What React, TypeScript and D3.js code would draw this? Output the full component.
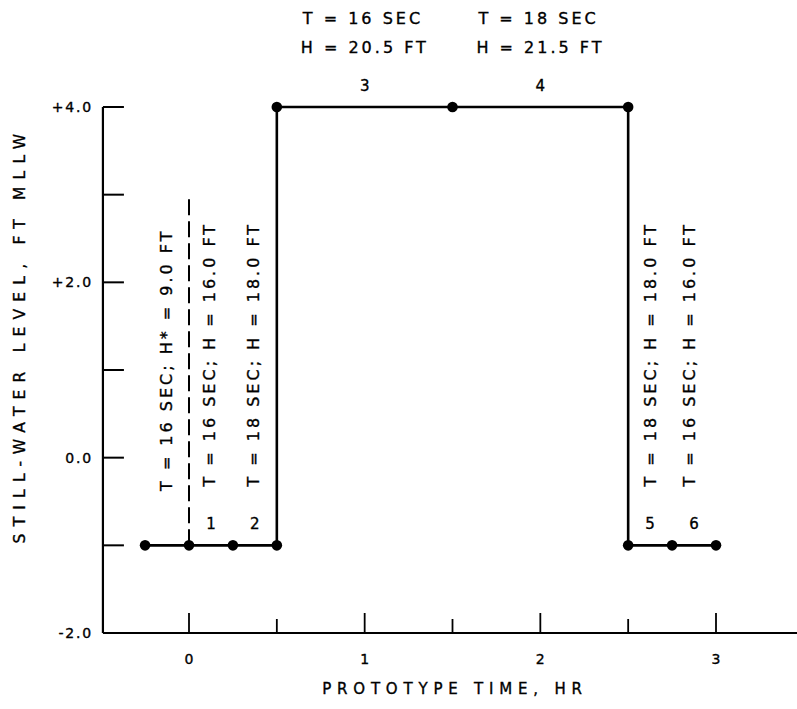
import React from 'react';
import * as d3 from 'd3';

const W = 797;
const H = 709;

// Still-water level history (time in hr, level in ft MLLW)
const pathTimes = [-0.25, 0, 0.25, 0.5, 0.5, 1.5, 2.5, 2.5, 2.75, 3.0];
const pathLevels = [-1, -1, -1, -1, 4, 4, 4, -1, -1, -1];

const yTickValues = [-2, -1, 0, 1, 2, 3, 4];
const yTickLabels = ['-2.0', '', '0.0', '', '+2.0', '', '+4.0'];
const xMajorTicks = [0, 1, 2, 3];
const xMajorLabels = ['0', '1', '2', '3'];
const xMinorTicks = [0.5, 1.5, 2.5];

const runNumbers = ['1', '2', '3', '4', '5', '6'];
const runStarts = [0, 0.25, 0.5, 1.5, 2.5, 2.75];
const runEnds = [0.25, 0.5, 1.5, 2.5, 2.75, 3.0];
const runLevels = [-1, -1, 4, 4, -1, -1];

const topNoteRuns = [2, 3];
const topNotesT = ['T = 16 SEC', 'T = 18 SEC'];
const topNotesH = ['H = 20.5 FT', 'H = 21.5 FT'];

const sideNotes = [
  'T = 16 SEC; H* = 9.0 FT',
  'T = 16 SEC; H = 16.0 FT',
  'T = 18 SEC; H = 18.0 FT',
  'T = 18 SEC; H = 18.0 FT',
  'T = 16 SEC; H = 16.0 FT',
];
const sideNoteTimes = [-0.13, 0.115, 0.37, 2.625, 2.85];
const sideNoteStartLevels = [-0.38, -0.33, -0.33, -0.33, -0.33];

const dashedTime = 0;
const dashedFrom = -1;
const dashedTo = 3.0;

const FONT = '"DejaVu Sans", sans-serif';

export default function App() {
  const x = d3.scaleLinear().domain([0, 3]).range([189, 716]);
  const y = d3.scaleLinear().domain([-2, 4]).range([633, 107]);
  const axisX = x(-0.49);
  const axisRight = W;

  const pts = pathTimes.map((t, i) => [t, pathLevels[i]] as [number, number]);
  const line = d3
    .line<[number, number]>()
    .x((d) => x(d[0]))
    .y((d) => y(d[1]));

  const txt = {
    fontFamily: FONT,
    fontSize: 16,
    letterSpacing: 3,
    fill: '#000',
    stroke: '#000',
    strokeWidth: 0.35,
  } as React.CSSProperties;

  return (
    <svg
      width={W}
      height={H}
      style={{ position: 'absolute', left: 0, top: 0, background: '#fff' }}
    >
      <rect x={0} y={0} width={W} height={H} fill="#fff" />
      {/* axes */}
      <line x1={axisX} y1={y(4)} x2={axisX} y2={y(-2)} stroke="#000" strokeWidth={2.2} />
      <line x1={axisX} y1={y(-2)} x2={axisRight} y2={y(-2)} stroke="#000" strokeWidth={2.2} />
      {yTickValues.map((v, i) =>
        v === -2 ? null : (
          <line key={'yt' + i} x1={axisX} x2={axisX + 21} y1={y(v)} y2={y(v)} stroke="#000" strokeWidth={2} />
        )
      )}
      {yTickValues.map((v, i) =>
        yTickLabels[i] ? (
          <text key={'yl' + i} x={axisX - 10} y={y(v)} textAnchor="end" dominantBaseline="central" style={{ ...txt, fontSize: 14, letterSpacing: 1.8 }}>
            {yTickLabels[i]}
          </text>
        ) : null
      )}
      {xMajorTicks.map((t) => (
        <line key={'xm' + t} x1={x(t)} x2={x(t)} y1={y(-2)} y2={y(-2) - 20} stroke="#000" strokeWidth={1.8} />
      ))}
      {xMinorTicks.map((t) => (
        <line key={'xn' + t} x1={x(t)} x2={x(t)} y1={y(-2)} y2={y(-2) - 14} stroke="#000" strokeWidth={1.8} />
      ))}
      {xMajorTicks.map((t, i) => (
        <text key={'xl' + t} x={x(t)} y={y(-2) + 26} textAnchor="middle" dominantBaseline="central" style={{ ...txt, fontSize: 14, letterSpacing: 0 }}>
          {xMajorLabels[i]}
        </text>
      ))}
      <text x={455} y={689} textAnchor="middle" dominantBaseline="central" style={{ ...txt, fontSize: 15, letterSpacing: 5.8 }}>
        PROTOTYPE TIME, HR
      </text>
      <text
        transform={`translate(20, 335) rotate(-90)`}
        textAnchor="middle"
        dominantBaseline="central"
        style={{ ...txt, fontSize: 15.5, letterSpacing: 7.2 }}
      >
        STILL-WATER LEVEL, FT MLLW
      </text>

      {/* dashed line */}
      <line
        x1={x(dashedTime)}
        x2={x(dashedTime)}
        y1={y(dashedFrom)}
        y2={y(dashedTo)}
        stroke="#000"
        strokeWidth={2}
        strokeDasharray="16,6"
      />

      {/* data line */}
      <path d={line(pts) || ''} fill="none" stroke="#000" strokeWidth={2.6} />
      {pts.map((p, i) => (
        <circle key={'p' + i} cx={x(p[0])} cy={y(p[1])} r={5.3} fill="#000" />
      ))}

      {/* run numbers */}
      {runNumbers.map((n, i) => (
        <text
          key={'rn' + i}
          x={x((runStarts[i] + runEnds[i]) / 2)}
          y={y(runLevels[i]) - 21}
          textAnchor="middle"
          dominantBaseline="central"
          style={{ ...txt, fontSize: 15, letterSpacing: 0 }}
        >
          {n}
        </text>
      ))}

      {/* top notes */}
      {topNoteRuns.map((r, i) => (
        <g key={'tn' + i}>
          <text x={x(runStarts[r]) + 26} y={y(runLevels[r]) - 89} textAnchor="start" dominantBaseline="central" style={txt}>
            {topNotesT[i]}
          </text>
          <text x={x(runStarts[r]) + 24} y={y(runLevels[r]) - 60} textAnchor="start" dominantBaseline="central" style={txt}>
            {topNotesH[i]}
          </text>
        </g>
      ))}

      {/* side notes */}
      {sideNotes.map((s, i) => (
        <text
          key={'sn' + i}
          transform={`translate(${x(sideNoteTimes[i])}, ${y(sideNoteStartLevels[i])}) rotate(-90)`}
          textAnchor="start"
          dominantBaseline="central"
          style={txt}
        >
          {s}
        </text>
      ))}
    </svg>
  );
}
